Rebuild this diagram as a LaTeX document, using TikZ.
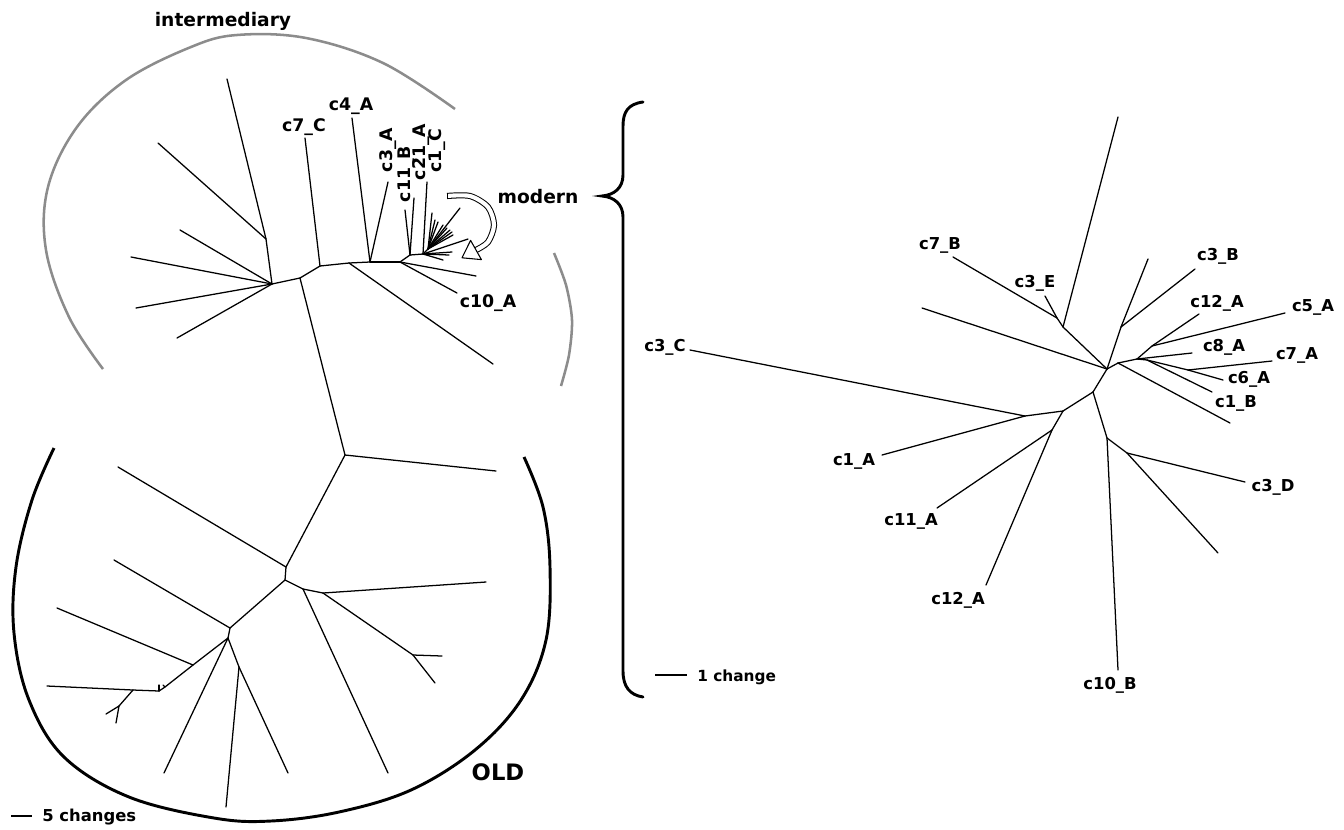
\documentclass[tikz,border=0pt]{standalone}
\usepackage{fontspec}
\setmainfont{DejaVu Sans}
\definecolor{arcgray}{RGB}{140,140,140}
\begin{document}
\begin{tikzpicture}[x=0.75pt,y=-0.75pt,
  br/.style={line width=0.95pt,line cap=round},
  labL/.style={font=\fontsize{13}{13}\selectfont\bfseries,inner sep=0pt},
  labR/.style={font=\fontsize{12.3}{12.3}\selectfont\bfseries,inner sep=0pt},
  big/.style={font=\fontsize{14}{14}\selectfont\bfseries,inner sep=0pt},
  grayarc/.style={arcgray,line width=1.9pt},
  blackarc/.style={black,line width=2.2pt}]
\useasboundingbox (0,0) rectangle (1344,829);

% ---------- upper-left tree (intermediary + modern) ----------
\coordinate (A) at (272,284);
\coordinate (L1) at (131,257); \coordinate (L2) at (136,308);
\coordinate (L3) at (177,338); \coordinate (L4) at (180,230);
\coordinate (B) at (266,239); \coordinate (B1) at (227,79); \coordinate (B2) at (158,143);
\coordinate (C) at (300,278); \coordinate (D) at (320,266);
\coordinate (D1) at (305,138);
\coordinate (E) at (349,263); \coordinate (E1) at (493,364);
\coordinate (F) at (370,262); \coordinate (F1) at (352,118); \coordinate (F2) at (388,182);
\coordinate (G) at (400,262); \coordinate (G1) at (476,276); \coordinate (G2) at (457,293);
\coordinate (H) at (410,255); \coordinate (H1) at (405,210); \coordinate (H2) at (414,198);
\coordinate (I) at (423,254); \coordinate (I1) at (427,182);
\coordinate (Fr) at (428,249);
\coordinate (f1) at (460,208); \coordinate (f2) at (432,213); \coordinate (f3) at (435,220);
\coordinate (f4) at (438,222); \coordinate (f5) at (443,225); \coordinate (f6) at (447,228);
\coordinate (f7) at (450,230); \coordinate (f8) at (452,232); \coordinate (f9) at (453,235);
\coordinate (i1) at (468,239); \coordinate (i2) at (452,252); \coordinate (i3) at (449,255);
\coordinate (i4) at (443,260);

\foreach \a/\b in {A/L1,A/L2,A/L3,A/L4,A/B,B/B1,B/B2,A/C,C/D,D/D1,D/E,E/E1,E/F,F/F1,F/F2,F/G,
  G/G1,G/G2,G/H,H/H1,H/H2,H/I,I/I1,I/Fr,Fr/f1,Fr/f2,Fr/f3,Fr/f4,Fr/f5,Fr/f6,Fr/f7,Fr/f8,Fr/f9,
  I/i1,I/i2,I/i3,I/i4}
  \draw[br] (\a) -- (\b);

% ---------- lower-left tree (OLD) ----------
\coordinate (P) at (345,455); \coordinate (P1) at (496,471);
\coordinate (Q) at (286,567); \coordinate (Q1) at (118,467);
\coordinate (R) at (285,580); \coordinate (R2) at (303,589); \coordinate (R21) at (388,773);
\coordinate (S) at (323,593); \coordinate (S1) at (486,582);
\coordinate (T) at (413,655); \coordinate (T1) at (442,656); \coordinate (T2) at (435,683);
\coordinate (U) at (230,628); \coordinate (U1) at (114,560);
\coordinate (V) at (228,638); \coordinate (V1) at (164,773);
\coordinate (W) at (239,667); \coordinate (W1) at (226,807); \coordinate (W2) at (288,773);
\coordinate (X) at (193,665); \coordinate (X1) at (57,608);
\coordinate (Y) at (165,687); \coordinate (Yb) at (159,691);
\coordinate (Yt1) at (159,685); \coordinate (Yt3) at (163,685);
\coordinate (Z) at (133,690); \coordinate (Z1) at (47,686);
\coordinate (Z2) at (119,706); \coordinate (Z21) at (106,714); \coordinate (Z22) at (116,723);

\foreach \a/\b in {C/P,P/P1,P/Q,Q/Q1,Q/R,R/R2,R2/R21,R2/S,S/S1,S/T,T/T1,T/T2,R/U,U/U1,U/V,V/V1,
  V/W,W/W1,W/W2,V/X,X/X1,X/Y,Y/Yb,Yb/Yt1,Y/Yt3,Yb/Z,Z/Z1,Z/Z2,Z2/Z21,Z2/Z22}
  \draw[br] (\a) -- (\b);

% ---------- right tree ----------
\coordinate (H0) at (1107,369);
\coordinate (N1) at (1063,327); \coordinate (N2) at (1057,318);
\coordinate (Ntop) at (1118,117); \coordinate (N7B) at (953,257); \coordinate (N3E) at (1045,296);
\coordinate (NL) at (922,308);
\coordinate (K3) at (1093,392); \coordinate (K2) at (1063,411); \coordinate (K1) at (1025,416);
\coordinate (K3C) at (690,350); \coordinate (K1A) at (882,455);
\coordinate (K4) at (1052,430); \coordinate (K11A) at (937,508); \coordinate (K12A) at (986,585);
\coordinate (K5) at (1107,438); \coordinate (K10B) at (1118,670);
\coordinate (K6) at (1127,453); \coordinate (K3D) at (1245,482); \coordinate (K6b) at (1218,553);
\coordinate (M1) at (1121,327); \coordinate (M1a) at (1148,259); \coordinate (M3B) at (1195,269);
\coordinate (J1) at (1118,363); \coordinate (J1a) at (1230,423);
\coordinate (J2) at (1137,359); \coordinate (J3) at (1152,346);
\coordinate (J12A) at (1199,314); \coordinate (J5A) at (1285,313);
\coordinate (J8A) at (1192,353);
\coordinate (J4) at (1147,360); \coordinate (J5) at (1188,370);
\coordinate (J7A) at (1272,361); \coordinate (J6A) at (1223,380); \coordinate (J1B) at (1212,392);

\foreach \a/\b in {H0/N1,N1/N2,N1/Ntop,N2/N7B,N2/N3E,H0/NL,H0/K3,K3/K2,K2/K1,K1/K3C,K1/K1A,
  K2/K4,K4/K11A,K4/K12A,K3/K5,K5/K10B,K5/K6,K6/K3D,K6/K6b,H0/M1,M1/M1a,M1/M3B,H0/J1,J1/J1a,
  J1/J2,J2/J3,J3/J12A,J3/J5A,J2/J8A,J2/J4,J4/J5,J5/J7A,J5/J6A,J4/J1B}
  \draw[br] (\a) -- (\b);

% ---------- arcs ----------
\draw[grayarc] plot[smooth,tension=0.6] coordinates {(103,369) (69,317) (46,250) (48,187) (77,127)
  (126,80) (191,47) (237,35) (306,38) (383,63) (455,109)};
\draw[grayarc] plot[smooth] coordinates {(554,253) (566,285) (572,320) (569,355) (561,386)};
\draw[blackarc] plot[smooth,tension=0.6] coordinates {(54,448) (32,500) (16,567) (14,633) (29,700)
  (64,757) (129,797) (214,818) (271,821) (339,812) (411,790) (475,750) (521,700) (546,640)
  (550,567) (543,507) (524,457)};

% ---------- modern arrow (hollow) ----------
\draw[line width=4.6pt] plot[smooth] coordinates {(447,196) (470,196) (488,207) (494,225) (488,242) (476,250)};
\draw[line width=3.1pt,white] plot[smooth] coordinates {(446,196) (470,196) (488,207) (494,225) (488,242) (476,250)};
\draw[line width=0.75pt] (447,192.9) -- (447,199.1);
\draw[line width=0.8pt,fill=white,line join=round] (470.6,240.4) -- (481.4,259.6) -- (462,257.8) -- cycle;

% ---------- brace ----------
\draw[line width=2.2pt,line cap=round] (643,102) .. controls (628,104) and (623,112) .. (623,126)
  -- (623,175) .. controls (623,188) and (614,195) .. (602,196)
  .. controls (614,197) and (623,204) .. (623,217)
  -- (623,671) .. controls (623,687) and (630,695) .. (643,697);

% ---------- labels ----------
\node[labL] (tC7C) at (304,127) {c7\_C};
\node[labL] (tC4A) at (351,106) {c4\_A};
\node[labL,rotate=90] (tC3A) at (388,150) {c3\_A};
\node[labL,rotate=90] (tC11B) at (406,174) {c11\_B};
\node[labL,rotate=90] (tC21A) at (421,152) {c21\_A};
\node[labL,rotate=90] (tC1C) at (437,151) {c1\_C};
\node[labL] (tC10A) at (488,303) {c10\_A};
\node[big] (tmod) at (538,197) {modern};
\node[big] (tint) at (223,21) {intermediary};
\node[font=\fontsize{17}{17}\selectfont\bfseries,inner sep=0pt] (told) at (498,772) {OLD};
\coordinate (s5a) at (11,816); \coordinate (s5b) at (32,816);
\draw[line width=1.2pt] (s5a) -- (s5b);
\node[labR,anchor=west] (t5) at (42,817) {5 changes};

\node[labR] (rC7B) at (940,245) {c7\_B};
\node[labR] (rC3E) at (1035,283) {c3\_E};
\node[labR] (rC3B) at (1218,256) {c3\_B};
\node[labR] (rC12A) at (1217,303) {c12\_A};
\node[labR] (rC5A) at (1313,307) {c5\_A};
\node[labR] (rC8A) at (1224,347) {c8\_A};
\node[labR] (rC7A) at (1297,355) {c7\_A};
\node[labR] (rC6A) at (1249,379) {c6\_A};
\node[labR] (rC1B) at (1236,403) {c1\_B};
\node[labR] (rC3C) at (665,347) {c3\_C};
\node[labR] (rC1A) at (854,461) {c1\_A};
\node[labR] (rC11A) at (911,521) {c11\_A};
\node[labR] (rC12Ab) at (958,600) {c12\_A};
\node[labR] (rC10B) at (1110,685) {c10\_B};
\node[labR] (rC3D) at (1273,487) {c3\_D};
\coordinate (s1a) at (655,675); \coordinate (s1b) at (687,675);
\draw[line width=0.8pt] (s1a) -- (s1b);
\node[font=\fontsize{11.5}{11.5}\selectfont\bfseries,inner sep=0pt,anchor=west] (t1) at (697,677) {1 change};
\end{tikzpicture}
\end{document}
